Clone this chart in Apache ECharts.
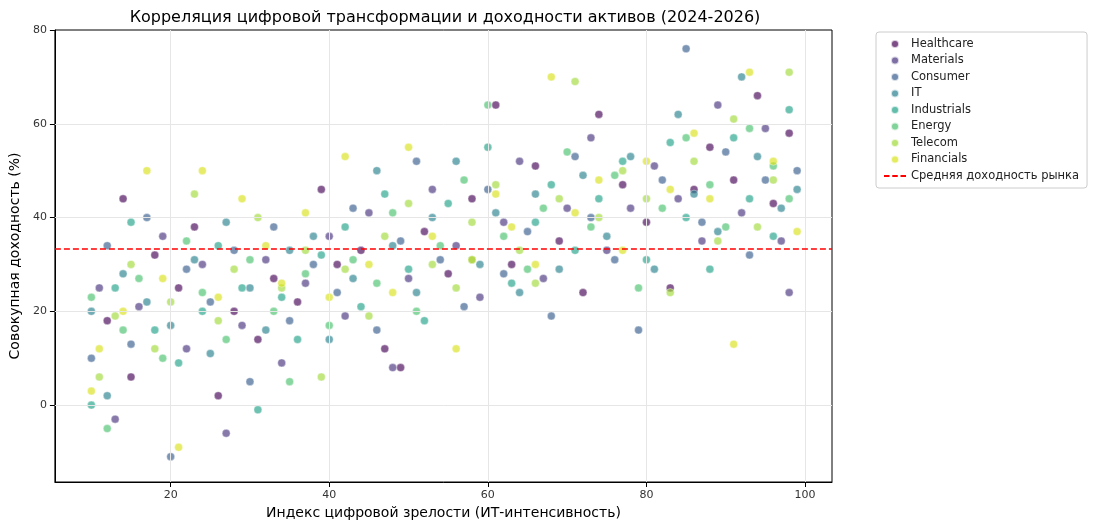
<!DOCTYPE html>
<html><head><meta charset="utf-8">
<script src="https://cdn.jsdelivr.net/npm/echarts@6/dist/echarts.min.js"></script>
<style>html,body{margin:0;background:#fff}#c{width:1094px;height:526px}</style>
</head><body><div id="c"></div>
<script>
const sectors = ['Healthcare','Materials','Consumer','IT','Industrials','Energy','Telecom','Financials'];
const colors = ['#440154','#46327e','#365c8d','#277f8e','#1fa187','#4ac16d','#a0da39','#d8e219'];
const healthcare = [[12,18],[14,44],[15,6],[18,32],[21,25],[23,38],[26,2],[28,20],[31,14],[33,27],[36,22],[39,46],[41,30],[44,33],[47,12],[49,8],[52,37],[55,28],[58,44],[61,64],[63,30],[66,51],[69,35],[72,24],[74,62],[77,47],[80,39],[83,25],[86,46],[88,55],[91,48],[94,66],[96,43],[98,58]];
const materials = [[11,25],[13,-3],[16,21],[19,36],[22,12],[24,30],[27,-6],[29,17],[32,31],[34,9],[37,26],[40,36],[42,19],[45,41],[48,8],[50,27],[53,46],[56,34],[59,23],[62,39],[64,52],[67,27],[70,42],[73,57],[75,33],[78,42],[81,51],[84,44],[87,35],[89,64],[92,41],[95,59],[97,35],[98,24]];
const consumer = [[10,10],[12,34],[15,13],[17,40],[20,-11],[22,29],[25,22],[28,33],[30,5],[33,38],[35,18],[38,30],[41,24],[43,42],[46,16],[49,35],[51,52],[54,31],[57,21],[60,46],[62,28],[65,37],[68,19],[71,53],[73,40],[76,31],[79,16],[82,48],[85,76],[87,39],[90,54],[93,32],[95,48],[99,50]];
const it = [[10,20],[12,2],[14,28],[17,22],[20,17],[23,31],[25,11],[27,39],[30,25],[32,16],[35,33],[38,36],[40,14],[43,27],[46,50],[48,34],[51,24],[53,40],[56,52],[59,30],[61,41],[64,24],[66,45],[69,29],[72,49],[75,36],[78,53],[81,29],[84,62],[86,45],[89,37],[92,70],[94,53],[97,42],[99,46]];
const industrials = [[10,0],[13,25],[15,39],[18,16],[21,9],[24,20],[26,34],[29,25],[31,-1],[34,23],[36,14],[39,32],[42,38],[44,21],[47,45],[50,29],[52,18],[55,43],[58,31],[60,55],[63,26],[66,39],[68,47],[71,33],[74,44],[77,52],[80,31],[83,56],[85,40],[88,29],[91,57],[93,44],[96,36],[98,63]];
const energy = [[10,23],[12,-5],[14,16],[16,27],[19,10],[22,35],[24,24],[27,14],[30,31],[33,20],[35,5],[37,28],[40,17],[43,31],[46,26],[48,41],[51,20],[54,34],[57,48],[60,64],[62,36],[65,29],[67,42],[70,54],[73,38],[76,49],[79,25],[82,42],[85,57],[88,47],[90,38],[93,59],[96,51],[98,44]];
const telecom = [[11,6],[13,19],[15,30],[18,12],[20,22],[23,45],[26,18],[28,29],[31,40],[34,25],[37,33],[39,6],[42,29],[45,19],[47,36],[50,43],[53,30],[56,25],[58,39],[61,47],[64,33],[66,26],[69,44],[71,69],[74,40],[77,50],[80,44],[83,24],[86,52],[89,35],[91,61],[94,38],[96,48],[98,71]];
const financials = [[10,3],[11,12],[14,20],[17,50],[19,27],[21,-9],[24,50],[26,23],[29,44],[32,34],[34,26],[37,41],[40,23],[42,53],[45,30],[48,24],[50,55],[53,36],[56,12],[58,31],[61,45],[63,38],[66,30],[68,70],[71,41],[74,48],[77,33],[80,52],[83,46],[86,58],[88,44],[91,13],[93,71],[96,52],[99,37]];
const sectorData = [healthcare, materials, consumer, it, industrials, energy, telecom, financials];
const meanReturn = 33.3;
const meanName = 'Средняя доходность рынка';
const xTicks = [20, 40, 60, 80, 100];
const yTicks = [0, 20, 40, 60, 80];

const chart = echarts.init(document.getElementById('c'));
const series = sectors.map((s, i) => ({
  name: s, type: 'scatter', data: sectorData[i], symbolSize: 8,
  itemStyle: {color: colors[i], opacity: 0.65, borderColor: '#fff', borderWidth: 0.6}
}));
// сетка
series.push({
  type: 'line', data: [], silent: true, z: 1,
  markLine: {symbol: 'none', silent: true, label: {show: false}, lineStyle: {color: '#e6e6e6', type: 'solid', width: 1},
    data: xTicks.map(v => ({xAxis: v})).concat(yTicks.slice(0, 4).map(v => ({yAxis: v})))}
});
series.push({
  name: meanName, type: 'line', data: [], itemStyle: {color: '#e41a1c'},
  markLine: {symbol: 'none', silent: true, label: {show: false},
    lineStyle: {color: '#ff0000', type: [6, 3], width: 1.5},
    data: [{yAxis: meanReturn}]}
});
const ax = {color: '#333', fontSize: 11, fontFamily: 'DejaVu Sans'};
chart.setOption({
  backgroundColor: '#fff',
  animation: false,
  title: {text: 'Корреляция цифровой трансформации и доходности активов (2024-2026)', left: 440, top: 5, textAlign: 'center',
    textStyle: {fontSize: 16, fontWeight: 'normal', color: '#000', fontFamily: 'DejaVu Sans'}},
  grid: {left: 47, right: 262, top: 30, bottom: 44, show: true, borderColor: '#000', borderWidth: 1},
  legend: {
    orient: 'vertical', left: 876, top: 32, itemGap: 4.5, itemWidth: 22, itemHeight: 8,
    padding: [6, 8], borderColor: '#ccc', borderWidth: 1, borderRadius: 3,
    textStyle: {fontSize: 11.5, color: '#222', fontFamily: 'DejaVu Sans'},
    data: sectors.map((s, i) => ({name: s, icon: 'circle', itemStyle: {color: colors[i], opacity: 0.7}}))
      .concat([{name: meanName, icon: 'path://M0,0h6v2H0zM9,0h6v2H9zM18,0h6v2h-6z', itemStyle: {color: '#ff0000'}}])
  },
  xAxis: {type: 'value', min: 5.4, max: 103.4,
    name: 'Индекс цифровой зрелости (ИТ-интенсивность)', nameLocation: 'middle', nameGap: 24,
    nameTextStyle: {fontSize: 14, color: '#000', fontFamily: 'DejaVu Sans'},
    axisLine: {onZero: false, lineStyle: {color: '#000'}},
    axisTick: {customValues: xTicks, lineStyle: {color: '#000'}},
    axisLabel: Object.assign({customValues: xTicks}, ax),
    splitLine: {show: false}},
  yAxis: {type: 'value', min: -16.4, max: 80,
    name: 'Совокупная доходность (%)', nameLocation: 'middle', nameGap: 28,
    nameTextStyle: {fontSize: 14, color: '#000', fontFamily: 'DejaVu Sans'},
    axisLine: {show: true, lineStyle: {color: '#000'}},
    axisTick: {show: true, customValues: yTicks},
    axisLabel: Object.assign({customValues: yTicks}, ax),
    splitLine: {show: false}},
  series: series
});
</script></body></html>
